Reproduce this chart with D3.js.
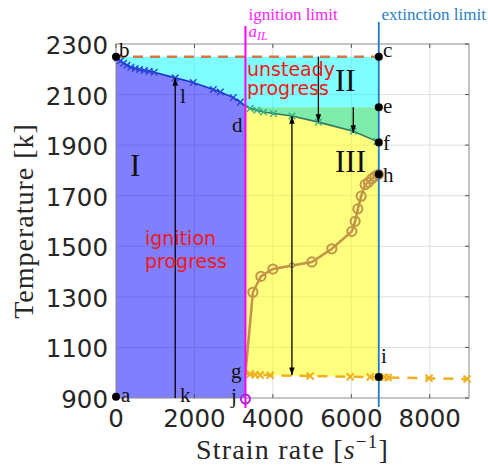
<!DOCTYPE html>
<html><head><meta charset="utf-8">
<script src="https://cdn.jsdelivr.net/npm/d3@7"></script>
<style>body{margin:0;background:#fff;}svg{display:block;}</style>
</head><body>
<svg id="c" width="488" height="465"></svg>
<script>
// ---- data ----
const xTicks = [0, 2000, 4000, 6000, 8000];
const yTicks = [900, 1100, 1300, 1500, 1700, 1900, 2100, 2300];
const ignitionLimit = 3300;
const extinctionLimit = 6700;
const topLevel = 2250;      // b - c
const eLevel = 2050;        // e
// upper (ignition) curve b -> d
const upperX = [0, 42, 110, 195, 280, 380, 490, 600, 720, 845, 975, 1510, 1970, 2480, 2660, 2990, 3170, 3300];
const upperT = [2250, 2245, 2233, 2224, 2216, 2208, 2203, 2199, 2195, 2192, 2188, 2166, 2148, 2120, 2110, 2088, 2070, 2055];
// lower curve d -> f
const lowerX = [3300, 3420, 3590, 3760, 4015, 4485, 5160, 6050, 6650, 6700];
const lowerT = [2055, 2045, 2038, 2031, 2025, 2015, 1991, 1955, 1915, 1910];
// tan curve g -> h
const tanX = [3300, 3490, 3694, 4000, 4994, 5503, 6013, 6097, 6166, 6250, 6352, 6436, 6522, 6606, 6690];
const tanT = [996, 1318, 1381, 1410, 1438, 1490, 1559, 1599, 1648, 1698, 1744, 1753, 1767, 1777, 1784];
const tanDotX = [4485], tanDotT = [1425];
// bottom (extinguished) branch g -> beyond
const botX = [3300, 3420, 3550, 3675, 3930, 4950, 5970, 6480, 6700, 6850, 6940, 7980, 8950];
const botT = [996, 994, 992, 991, 990, 987, 984, 983, 983, 982, 981, 978, 975];
// labelled black points
const ptNames = ["a", "b", "c", "e", "f", "h", "i"];
const ptX = [0, 0, 6700, 6700, 6700, 6700, 6700];
const ptT = [905, 2250, 2250, 2050, 1910, 1785, 983];
// arrows [x, fromT, toT, doubleHeaded]
const arrowX = [1510, 4485, 5160, 6050];
const arrowFrom = [900, 990, 2250, 2050];
const arrowTo = [2166, 2015, 1991, 1948];
const arrowDouble = [false, true, false, false];

// ---- drawing ----
const svg = d3.select("#c");
const L = 116, R = 469, T = 44, B = 398;
const x = d3.scaleLinear().domain([0, 9000]).range([L, R]);
const y = d3.scaleLinear().domain([900, 2300]).range([B, T]);
const serif = "Liberation Serif, Times New Roman, serif";
const sans = "DejaVu Sans, sans-serif";

const defs = svg.append("defs");
defs.append("marker").attr("id", "ah").attr("viewBox", "0 0 10 10").attr("refX", 10).attr("refY", 5)
  .attr("markerWidth", 6).attr("markerHeight", 6).attr("orient", "auto-start-reverse")
  .append("path").attr("d", "M0,1.5L10,5L0,8.5Z").attr("fill", "#000");

// grid
const g = svg.append("g");
g.selectAll(".gx").data(xTicks.slice(1)).join("line")
  .attr("x1", d => x(d)).attr("x2", d => x(d)).attr("y1", T).attr("y2", B)
  .attr("stroke", "#dedede").attr("stroke-width", 1);
g.selectAll(".gy").data(yTicks.slice(1, -1)).join("line")
  .attr("x1", L).attr("x2", R).attr("y1", d => y(d)).attr("y2", d => y(d))
  .attr("stroke", "#dedede").attr("stroke-width", 1);

const upper = upperX.map((v, i) => [v, upperT[i]]);
const lower = lowerX.map((v, i) => [v, lowerT[i]]);
const tan = tanX.map((v, i) => [v, tanT[i]]);
const bot = botX.map((v, i) => [v, botT[i]]);
const poly = pts => pts.map(p => [x(p[0]), y(p[1])].join(",")).join(" ");

// region I (blue)
svg.append("polygon").attr("points", poly([[0, 900], ...upper, [ignitionLimit, 900]]))
  .attr("fill", "#0000ff").attr("fill-opacity", 0.5);
// cyan
svg.append("polygon").attr("points", poly([[0, topLevel], [extinctionLimit, topLevel], [extinctionLimit, eLevel],
  [ignitionLimit, eLevel], ...upper.slice().reverse()]))
  .attr("fill", "#00ffff").attr("fill-opacity", 0.5);
// green
svg.append("polygon").attr("points", poly([[ignitionLimit, eLevel], [extinctionLimit, eLevel], ...lower.slice().reverse()]))
  .attr("fill", "#00d755").attr("fill-opacity", 0.5);
// yellow
const botIn = bot.filter(p => p[0] <= extinctionLimit);
svg.append("polygon").attr("points", poly([...lower, ...botIn.slice().reverse()]))
  .attr("fill", "#ffff00").attr("fill-opacity", 0.5);

// box and ticks
svg.append("rect").attr("x", L).attr("y", T).attr("width", R - L).attr("height", B - T)
  .attr("fill", "none").attr("stroke", "#8a8a8a").attr("stroke-width", 1);
xTicks.forEach(t => {
  svg.append("line").attr("x1", x(t)).attr("x2", x(t)).attr("y1", B).attr("y2", B - 4).attr("stroke", "#555");
  svg.append("line").attr("x1", x(t)).attr("x2", x(t)).attr("y1", T).attr("y2", T + 4).attr("stroke", "#555");
});
yTicks.forEach(t => {
  svg.append("line").attr("x1", R).attr("x2", R - 4).attr("y1", y(t)).attr("y2", y(t)).attr("stroke", "#555");
});

// tick labels
svg.selectAll(".xt").data(xTicks).join("text")
  .attr("x", d => x(d)).attr("y", 427).attr("text-anchor", "middle")
  .attr("font-family", sans).attr("font-size", 24.5).attr("fill", "#262626").text(d => d);
svg.selectAll(".yt").data(yTicks).join("text")
  .attr("x", 108).attr("y", d => y(d) + 10).attr("text-anchor", "end")
  .attr("font-family", sans).attr("font-size", 24.5).attr("fill", "#262626").text(d => d);

// axis titles
svg.append("text").attr("transform", `translate(33,${(T + B) / 2}) rotate(-90)`)
  .attr("text-anchor", "middle").attr("font-family", serif).attr("font-size", 28)
  .attr("letter-spacing", 1).attr("fill", "#262626").text("Temperature [k]");
const xt = svg.append("text").attr("x", (L + R) / 2).attr("y", 459).attr("text-anchor", "middle")
  .attr("font-family", serif).attr("font-size", 28).attr("letter-spacing", 1.2).attr("fill", "#262626");
xt.append("tspan").text("Strain rate [");
xt.append("tspan").attr("font-style", "italic").text("s");
xt.append("tspan").attr("font-size", 19).attr("dy", -11).text("−1");
xt.append("tspan").attr("dy", 11).text("]");

// dashed top line b - c
svg.append("line").attr("x1", x(0)).attr("x2", x(extinctionLimit)).attr("y1", y(topLevel)).attr("y2", y(topLevel))
  .attr("stroke", "#d27a45").attr("stroke-width", 2.5).attr("stroke-dasharray", "10,7");

const line = d3.line().x(d => x(d[0])).y(d => y(d[1]));
const xMark = (sel, pts, color, s, w) => {
  sel.selectAll(null).data(pts).join("path")
    .attr("d", d => `M${x(d[0]) - s},${y(d[1]) - s}L${x(d[0]) + s},${y(d[1]) + s}M${x(d[0]) - s},${y(d[1]) + s}L${x(d[0]) + s},${y(d[1]) - s}`)
    .attr("stroke", color).attr("stroke-width", w).attr("fill", "none");
};

// bottom branch
svg.append("path").attr("d", line(bot)).attr("fill", "none").attr("stroke", "#edb120")
  .attr("stroke-width", 2.5).attr("stroke-dasharray", "10,8");
xMark(svg.append("g"), bot.slice(1), "#edb120", 3.5, 2);

// upper curve
svg.append("path").attr("d", line(upper)).attr("fill", "none").attr("stroke", "#1f35c8").attr("stroke-width", 1.6);
xMark(svg.append("g"), upper.slice(1, -1), "#2a44d8", 3.3, 1.4);
// lower curve
svg.append("path").attr("d", line(lower)).attr("fill", "none").attr("stroke", "#2f7a60").attr("stroke-width", 1.6);
xMark(svg.append("g"), lower.slice(1, -1), "#33b08a", 3.3, 1.4);

// tan curve
svg.append("path").attr("d", line(tan)).attr("fill", "none").attr("stroke", "#c29448").attr("stroke-width", 2.5);
svg.selectAll(".tc").data(tan.slice(1)).join("circle")
  .attr("cx", d => x(d[0])).attr("cy", d => y(d[1])).attr("r", 4.6)
  .attr("fill", "none").attr("stroke", "#c29448").attr("stroke-width", 2);
svg.selectAll(".td").data(tanDotX.map((v, i) => [v, tanDotT[i]])).join("circle")
  .attr("cx", d => x(d[0])).attr("cy", d => y(d[1])).attr("r", 2.5)
  .attr("fill", "#e8d27a").attr("stroke", "#8a6a30").attr("stroke-width", 0.8);

// arrows
arrowX.forEach((ax, i) => {
  const l = svg.append("line").attr("x1", x(ax)).attr("x2", x(ax))
    .attr("y1", y(arrowFrom[i])).attr("y2", y(arrowTo[i]))
    .attr("stroke", "#000").attr("stroke-width", 1.3).attr("marker-end", "url(#ah)");
  if (arrowDouble[i]) l.attr("marker-start", "url(#ah)");
});

// limit lines
svg.append("line").attr("x1", x(ignitionLimit)).attr("x2", x(ignitionLimit)).attr("y1", 26).attr("y2", 408)
  .attr("stroke", "#ff00ff").attr("stroke-width", 2);
svg.append("line").attr("x1", x(extinctionLimit)).attr("x2", x(extinctionLimit)).attr("y1", 22).attr("y2", 407)
  .attr("stroke", "#1f7bc4").attr("stroke-width", 1.8);
// point j (open magenta circle)
svg.append("circle").attr("cx", x(ignitionLimit)).attr("cy", y(900) + 1).attr("r", 4.5)
  .attr("fill", "none").attr("stroke", "#b020e0").attr("stroke-width", 2);

// black points
svg.selectAll(".bp").data(ptX.map((v, i) => [v, ptT[i]])).join("circle")
  .attr("cx", d => x(d[0])).attr("cy", d => y(d[1])).attr("r", 4).attr("fill", "#000");

// letter labels (pixel positions)
const lab = [["a", 121, 402], ["b", 119, 57], ["c", 383, 57], ["e", 383, 113], ["f", 383, 150],
  ["h", 383, 182], ["i", 381, 363], ["g", 231, 378], ["j", 231, 403], ["k", 180, 402],
  ["l", 180, 103], ["d", 232, 132]];
svg.selectAll(".lb").data(lab).join("text")
  .attr("x", d => d[1]).attr("y", d => d[2]).attr("font-family", serif).attr("font-size", 21)
  .attr("fill", "#111").text(d => d[0]);
// region numerals
[["I", 130, 176], ["II", 335, 91], ["III", 335, 172]].forEach(d => {
  svg.append("text").attr("x", d[1]).attr("y", d[2]).attr("font-family", serif).attr("font-size", 31)
    .attr("fill", "#111").text(d[0]);
});
// red annotations
const red = "#f01818";
[["unsteady", 247, 76], ["progress", 247, 95], ["ignition", 145, 245], ["progress", 145, 268]].forEach(d => {
  svg.append("text").attr("x", d[1]).attr("y", d[2]).attr("font-family", sans).attr("font-size", 19)
    .attr("fill", red).text(d[0]);
});
// limit labels
svg.append("text").attr("x", 248.5).attr("y", 20).attr("font-family", serif).attr("font-size", 17)
  .attr("fill", "#ff22ff").text("ignition limit");
svg.append("text").attr("x", 381.5).attr("y", 20).attr("font-family", serif).attr("font-size", 17)
  .attr("fill", "#2a7fc4").text("extinction limit");
const ail = svg.append("text").attr("x", 248.5).attr("y", 37).attr("font-family", serif)
  .attr("font-size", 17).attr("font-style", "italic").attr("fill", "#ff22ff");
ail.append("tspan").text("a");
ail.append("tspan").attr("font-size", 12).attr("dy", 3).text("IL");
</script>
</body></html>
